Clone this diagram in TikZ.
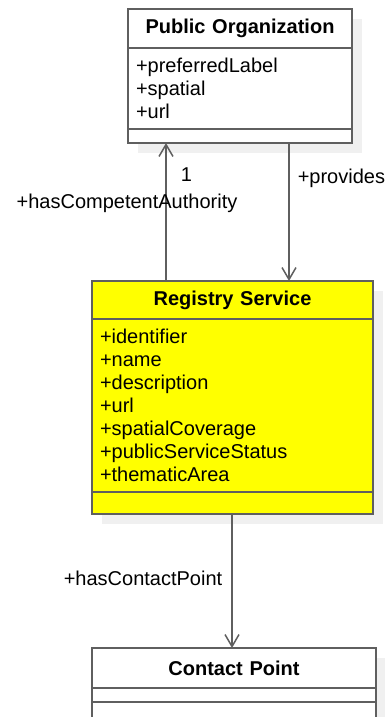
\documentclass[tikz,border=0pt]{standalone}
\usepackage{fontspec}
\setmainfont{Liberation Sans}
\usetikzlibrary{positioning,shadows,arrows.meta}
\definecolor{linegray}{HTML}{5F5F5F}
\definecolor{shadowgray}{HTML}{F0F0F0}
\definecolor{classyellow}{HTML}{FFFF00}

\begin{document}
\begin{tikzpicture}[
  x=1pt, y=-1pt,
  every node/.style={font=\fontsize{20}{23}\selectfont},
  part/.style={draw=linegray, line width=1.6pt, fill=white, text width=#1, inner xsep=8pt, inner ysep=0pt, outer sep=0pt, align=left, anchor=north west, drop shadow={shadow xshift=10pt, shadow yshift=-10pt, fill=shadowgray, opacity=1}},
  title/.style={part=#1, align=center, font=\fontsize{20}{23}\selectfont\bfseries},
  lbl/.style={inner sep=0pt},
  assoc/.style={draw=linegray, line width=1.5pt, -{Straight Barb[length=12pt, width=14pt]}}
]
\useasboundingbox (0,0) rectangle (385,717);

% Public Organization
\node[title=208, minimum height=39pt] (poTitle) at (128,9) {Public Organization};
\node[part=208, minimum height=81pt, below=0pt of poTitle] (poAttrs) {+preferredLabel\\+spatial\\+url};
\node[part=208, minimum height=14pt, below=0pt of poAttrs] (poEmpty) {};

% Registry Service
\node[title=265, fill=classyellow, minimum height=38pt] (rsTitle) at (92,281) {Registry Service};
\node[part=265, fill=classyellow, minimum height=173pt, below=0pt of rsTitle] (rsAttrs)
  {+identifier\\+name\\+description\\+url\\+spatialCoverage\\+publicServiceStatus\\+thematicArea};
\node[part=265, fill=classyellow, minimum height=22pt, below=0pt of rsAttrs] (rsEmpty) {};

% Contact Point
\node[title=268, minimum height=40pt] (cpTitle) at (92,648) {Contact Point};
\node[part=268, minimum height=14pt, below=0pt of cpTitle] (cpAttrs) {};
\node[part=268, minimum height=16pt, below=0pt of cpAttrs] (cpEmpty) {};

% associations
\coordinate (authEnd) at ([xshift=38pt]poEmpty.south west);
\coordinate (provStart) at ([xshift=161pt]poEmpty.south west);
\coordinate (cpStart) at ([xshift=-0.5pt]rsEmpty.south);
\draw[assoc] (rsTitle.north -| authEnd) -- (authEnd)
  node[lbl, pos=0.77, anchor=west, xshift=14pt] (authMult) {1}
  node[lbl, pos=0.565, xshift=-39pt] (authRole) {+hasCompetentAuthority};
\draw[assoc] (provStart) -- (rsTitle.north -| provStart)
  node[lbl, pos=0.254, anchor=west, xshift=8pt] (provRole) {+provides};
\draw[assoc] (cpStart) -- (cpStart |- cpTitle.north)
  node[lbl, pos=0.478, anchor=east, xshift=-9pt] (cpRole) {+hasContactPoint};
\end{tikzpicture}
\end{document}
